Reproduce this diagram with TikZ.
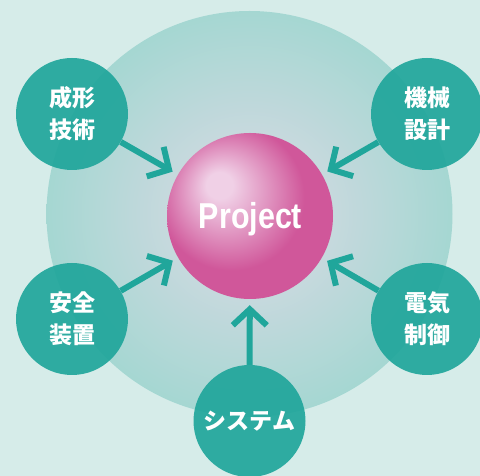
\documentclass[tikz,border=0pt]{standalone}
\usepackage{fontspec}
\usetikzlibrary{arrows.meta}
\newfontfamily\cjk{Noto Sans CJK JP}
\newfontfamily\projfont{Liberation Sans}
\definecolor{bg}{HTML}{D6ECE9}
\definecolor{bigout}{HTML}{A5D7D2}
\definecolor{bigin}{HTML}{CBD9DF}
\definecolor{tealc}{HTML}{20A69B}
\definecolor{pinkm}{HTML}{D0579A}
\definecolor{pinkh}{HTML}{F0D0E6}
\pgfdeclareradialshading{bigshade}{\pgfpoint{0bp}{0bp}}{color(0bp)=(bigin); color(8bp)=(bigin); color(25bp)=(bigout); color(50bp)=(bigout)}
\pgfdeclareradialshading{ballshade}{\pgfpoint{-10bp}{10bp}}{color(0bp)=(pinkh); color(4bp)=(pinkh); color(22bp)=(pinkm); color(50bp)=(pinkm)}
\tikzset{
  sat/.style={circle, minimum size=112pt, inner sep=0pt, fill=tealc, fill opacity=0.92, text opacity=1, text=white, font=\cjk\bfseries\fontsize{23}{32}\selectfont, align=center},
  arr/.style={draw=tealc, line width=6pt, shorten >=6pt, -{Straight Barb[length=16pt, width=34pt]}}
}
\begin{document}
\begin{tikzpicture}[x=1pt,y=1pt]
\useasboundingbox (0,0) rectangle (480,476);
\fill[bg] (0,0) rectangle (480,476);
\shade[shading=bigshade] (249.5,262) circle (203);
\node[circle, minimum size=166pt, inner sep=0pt] (proj) at (250,260) {};
\node[sat] (tl) at (72,362) {成形\\技術};
\node[sat] (tr) at (427,362) {機械\\設計};
\node[sat] (bl) at (72,157) {安全\\装置};
\node[sat] (br) at (427,157) {電気\\制御};
\node[sat] (bt) at (249.5,55) {システム};
\draw[arr] (tl) -- (proj);
\draw[arr] (tr) -- (proj);
\draw[arr] (bl) -- (proj);
\draw[arr] (br) -- (proj);
\draw[arr] (bt) -- (proj);
\shade[shading=ballshade] (proj.center) circle (83);
\node[text=white, inner sep=0pt, anchor=base, font=\projfont\bfseries\fontsize{36}{40}\selectfont, xscale=0.845] (ptext) at (250.5,247) {Project};
\end{tikzpicture}
\end{document}
